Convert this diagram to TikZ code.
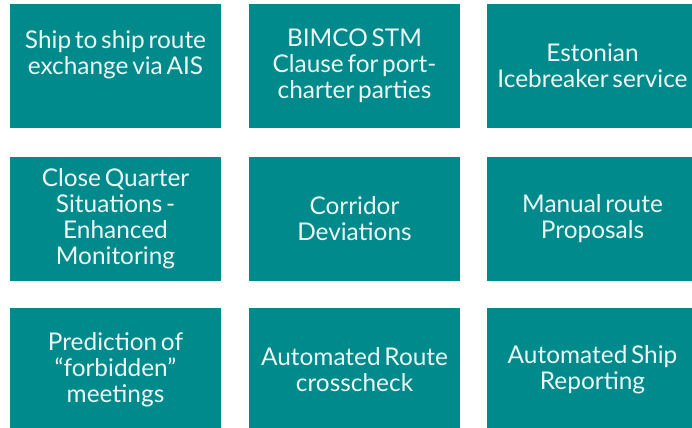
\documentclass[tikz,border=0pt]{standalone}
\usepackage{fontspec}
\newfontfamily\tilefont{Lato}[WordSpace=0.6]
\definecolor{stmteal}{RGB}{0,138,140}
\definecolor{stmtext}{RGB}{236,247,247}
\begin{document}
\begin{tikzpicture}[x=.75pt,y=-.75pt, tile/.style={fill=stmteal,text=stmtext,minimum width=158.25pt,minimum height=93pt,inner sep=0pt,align=center,font=\tilefont\fontsize{18.3}{19.5}\selectfont}]
\useasboundingbox (0,0) rectangle (692,428);
\foreach \n/\c/\r/\t in {ais/115.5/66/{Ship to ship route\\exchange via AIS\\\mbox{}}, bimco/354.5/66/{BIMCO STM\\Clause for port-\\charter parties}, ice/592.5/66/{Estonian\\Icebreaker service},
  cqs/115.5/218.5/{Close Quarter\\Situations -\\Enhanced\\Monitoring}, corr/354.5/218.5/{Corridor\\Deviations}, manual/592.5/218.5/{Manual route\\Proposals},
  forb/115.5/370/{Prediction of\\“forbidden”\\meetings}, cross/354.5/370/{Automated Route\\crosscheck}, report/592.5/370/{Automated Ship\\Reporting}}
  \node[tile] (\n) at (\c,\r) {\t};
\end{tikzpicture}
\end{document}
